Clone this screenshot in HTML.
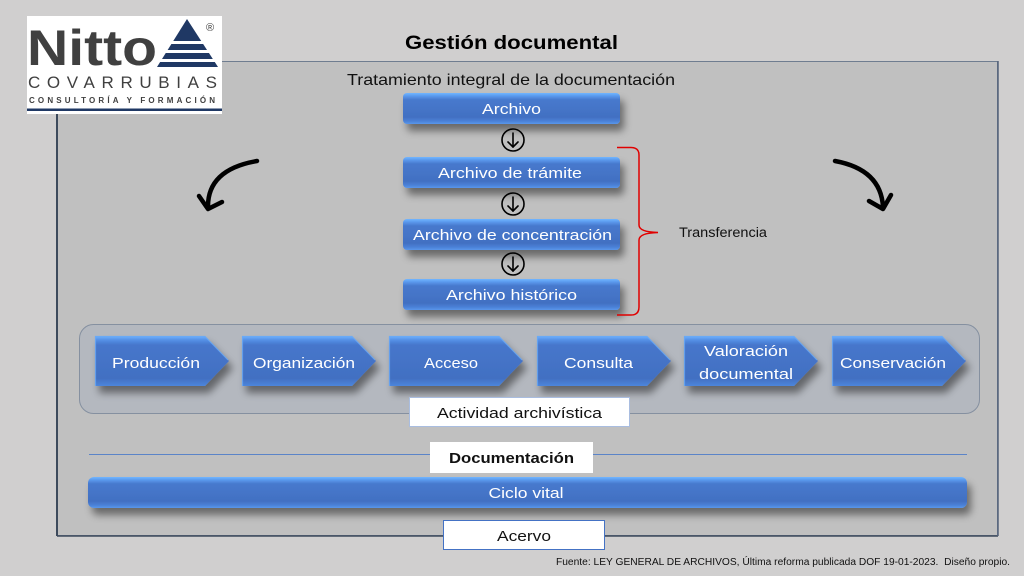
<!DOCTYPE html>
<html>
<head>
<meta charset="utf-8">
<style>
html,body{margin:0;padding:0;background:#d0cfcf;}
svg{display:block;}
text{font-family:"Liberation Sans",sans-serif;}
</style>
</head>
<body>
<svg width="1024" height="576" viewBox="0 0 1024 576" xmlns="http://www.w3.org/2000/svg">
<defs>
  <linearGradient id="btn" x1="0" y1="0" x2="0" y2="1">
    <stop offset="0" stop-color="#72b6ff"/>
    <stop offset="0.1" stop-color="#5a98ec"/>
    <stop offset="0.22" stop-color="#4779cd"/>
    <stop offset="0.78" stop-color="#4270c2"/>
    <stop offset="0.9" stop-color="#4a80d6"/>
    <stop offset="1" stop-color="#5a96ea"/>
  </linearGradient>
  <linearGradient id="chev" x1="0" y1="0" x2="0" y2="1">
    <stop offset="0" stop-color="#6fb2ff"/>
    <stop offset="0.08" stop-color="#5590e6"/>
    <stop offset="0.18" stop-color="#4676cb"/>
    <stop offset="0.85" stop-color="#4270c2"/>
    <stop offset="1" stop-color="#4d86dc"/>
  </linearGradient>
  <filter id="sh" x="-10%" y="-30%" width="130%" height="190%">
    <feDropShadow dx="4" dy="7" stdDeviation="4" flood-color="#000" flood-opacity="0.45"/>
  </filter>
</defs>

<!-- main panel -->
<rect x="57.5" y="61.5" width="940" height="474" fill="#c0c0c0" stroke="#6f7d90" stroke-width="1"/>
<line x1="57" y1="61" x2="57" y2="536" stroke="#3d4a5c" stroke-width="2"/>
<line x1="57" y1="536" x2="998" y2="536" stroke="#3d4a5c" stroke-width="1.5"/>
<line x1="998" y1="61" x2="998" y2="536" stroke="#55637a" stroke-width="1.5"/>

<!-- logo -->
<rect x="27" y="16" width="195" height="98" fill="#ffffff"/>
<text x="27" y="65" font-size="50" font-weight="bold" fill="#404040" textLength="130" lengthAdjust="spacingAndGlyphs">Nitto</text>
<polygon points="187,19 157,67 218,67" fill="#1f3864"/>
<rect x="160" y="41" width="56" height="3" fill="#ffffff"/>
<rect x="160" y="50" width="56" height="3" fill="#ffffff"/>
<rect x="155" y="59" width="66" height="3" fill="#ffffff"/>
<text x="206" y="31" font-size="11" fill="#404040">®</text>
<text x="28" y="88" font-size="17" fill="#404040" textLength="189" lengthAdjust="spacing">COVARRUBIAS</text>
<text x="29" y="103" font-size="8" font-weight="bold" fill="#404040" textLength="186" lengthAdjust="spacing">CONSULTORÍA Y FORMACIÓN</text>
<rect x="27" y="108.5" width="195" height="2.5" fill="#1f3864"/>

<!-- titles -->
<text x="405" y="49" font-size="19" font-weight="bold" fill="#000" textLength="213" lengthAdjust="spacingAndGlyphs">Gestión documental</text>
<text x="347" y="85" font-size="16" fill="#111" textLength="328" lengthAdjust="spacingAndGlyphs">Tratamiento integral de la documentación</text>

<!-- archive buttons -->
<g filter="url(#sh)">
  <rect x="403" y="93" width="217" height="31" rx="4" fill="url(#btn)"/>
  <rect x="403" y="157" width="217" height="31" rx="4" fill="url(#btn)"/>
  <rect x="403" y="219" width="217" height="31" rx="4" fill="url(#btn)"/>
  <rect x="403" y="279" width="217" height="31" rx="4" fill="url(#btn)"/>
</g>
<g fill="#ffffff" font-size="14.5" text-anchor="middle">
  <text x="511.5" y="114" textLength="59" lengthAdjust="spacingAndGlyphs">Archivo</text>
  <text x="510" y="178" textLength="144" lengthAdjust="spacingAndGlyphs">Archivo de trámite</text>
  <text x="512.5" y="240" textLength="199" lengthAdjust="spacingAndGlyphs">Archivo de concentración</text>
  <text x="511.5" y="300" textLength="131" lengthAdjust="spacingAndGlyphs">Archivo histórico</text>
</g>

<!-- circle arrows -->
<g fill="none" stroke="#000" stroke-width="1.6" stroke-linecap="round" stroke-linejoin="round">
  <circle cx="513" cy="140" r="11"/>
  <line x1="513" y1="133" x2="513" y2="147"/>
  <polyline points="508,142 513,147 518,142"/>
  <circle cx="513" cy="204" r="11"/>
  <line x1="513" y1="197" x2="513" y2="211"/>
  <polyline points="508,206 513,211 518,206"/>
  <circle cx="513" cy="264" r="11"/>
  <line x1="513" y1="257" x2="513" y2="271"/>
  <polyline points="508,266 513,271 518,266"/>
</g>

<!-- red bracket -->
<path d="M617,147.5 L631,147.5 Q639,147.5 639,155 L639,225 Q639,232 658,232.5 Q639,233 639,240 L639,307 Q639,315 631,315 L617,315" fill="none" stroke="#e00000" stroke-width="1.5"/>
<text x="679" y="237" font-size="13.5" fill="#111" textLength="88" lengthAdjust="spacingAndGlyphs">Transferencia</text>

<!-- curved arrows -->
<g fill="none" stroke="#000" stroke-width="4.5" stroke-linecap="round" stroke-linejoin="round">
  <path d="M257,161 Q207.5,169.5 208,207"/>
  <polyline points="199,196 208,209 222,202"/>
  <path d="M835,161 Q881,169.5 883,207"/>
  <polyline points="869,201 883,209 891,195"/>
</g>

<!-- activity panel -->
<rect x="79.5" y="324.5" width="900" height="89" rx="14" fill="#b4b8bf" stroke="#8590a0" stroke-width="1"/>

<!-- chevrons -->
<g filter="url(#sh)" fill="url(#chev)">
  <polygon points="95,336 205,336 229,361 205,386 95,386"/>
  <polygon points="242,336 352,336 376,361 352,386 242,386"/>
  <polygon points="389,336 499,336 523,361 499,386 389,386"/>
  <polygon points="537,336 647,336 671,361 647,386 537,386"/>
  <polygon points="684,336 794,336 818,361 794,386 684,386"/>
  <polygon points="832,336 942,336 966,361 942,386 832,386"/>
</g>
<g fill="none" stroke="#6aa9f5" stroke-width="1.2" opacity="0.8">
  <polyline points="95.5,386 95.5,336.5 205,336.5 228,360"/>
  <polyline points="242.5,386 242.5,336.5 352,336.5 375,360"/>
  <polyline points="389.5,386 389.5,336.5 499,336.5 522,360"/>
  <polyline points="537.5,386 537.5,336.5 647,336.5 670,360"/>
  <polyline points="684.5,386 684.5,336.5 794,336.5 817,360"/>
  <polyline points="832.5,386 832.5,336.5 942,336.5 965,360"/>
</g>
<g fill="#ffffff" font-size="14.5" text-anchor="middle">
  <text x="156" y="368" textLength="88" lengthAdjust="spacingAndGlyphs">Producción</text>
  <text x="304" y="368" textLength="102" lengthAdjust="spacingAndGlyphs">Organización</text>
  <text x="451" y="368" textLength="54" lengthAdjust="spacingAndGlyphs">Acceso</text>
  <text x="598.5" y="368" textLength="69" lengthAdjust="spacingAndGlyphs">Consulta</text>
  <text x="746" y="356" textLength="84" lengthAdjust="spacingAndGlyphs">Valoración</text>
  <text x="746" y="379" textLength="94" lengthAdjust="spacingAndGlyphs">documental</text>
  <text x="893" y="368" textLength="106" lengthAdjust="spacingAndGlyphs">Conservación</text>
</g>

<!-- Actividad archivística -->
<rect x="409.5" y="397.5" width="220" height="29" fill="#ffffff" stroke="#a9bde0" stroke-width="1"/>
<text x="519.5" y="418" font-size="15" fill="#111" text-anchor="middle" textLength="165" lengthAdjust="spacingAndGlyphs">Actividad archivística</text>

<!-- blue line + Documentación -->
<line x1="89" y1="454.5" x2="967" y2="454.5" stroke="#5b84c8" stroke-width="1"/>
<rect x="430" y="442" width="163" height="31" fill="#ffffff"/>
<text x="511.5" y="463" font-size="15" font-weight="bold" fill="#111" text-anchor="middle" textLength="125" lengthAdjust="spacingAndGlyphs">Documentación</text>

<!-- Ciclo vital bar -->
<g filter="url(#sh)">
  <rect x="88" y="477" width="879" height="31" rx="6" fill="url(#btn)"/>
</g>
<text x="526" y="498" font-size="14.5" fill="#ffffff" text-anchor="middle" textLength="75" lengthAdjust="spacingAndGlyphs">Ciclo vital</text>

<!-- Acervo -->
<rect x="443.5" y="520.5" width="161" height="29" fill="#ffffff" stroke="#4472c4" stroke-width="1"/>
<text x="524" y="541" font-size="15" fill="#111" text-anchor="middle" textLength="54" lengthAdjust="spacingAndGlyphs">Acervo</text>

<!-- footer -->
<text x="556" y="565" font-size="10" fill="#111" textLength="454" lengthAdjust="spacingAndGlyphs" xml:space="preserve">Fuente: LEY GENERAL DE ARCHIVOS, Última reforma publicada DOF 19-01-2023.  Diseño propio.</text>
</svg>
</body>
</html>
